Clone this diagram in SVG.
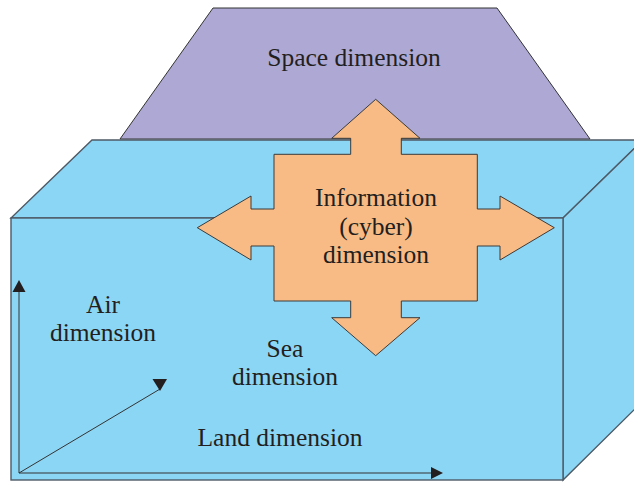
<svg xmlns="http://www.w3.org/2000/svg" width="634" height="482" viewBox="0 0 634 482">
<style>
.t{font-family:"Liberation Serif","Times New Roman",serif;font-size:25.5px;fill:#231f20;text-anchor:middle}
.box{fill:#8cd6f5;stroke:#4d5a66;stroke-width:1.4;stroke-linejoin:miter}
.ax{stroke:#333;stroke-width:1;fill:none}
.hd{fill:#231f20;stroke:none}
</style>
<rect width="634" height="482" fill="#fff"/>
<g id="space">
<polygon points="213,8 497,8 590,139 120,139" fill="#ada9d4" stroke="#333" stroke-width="1"/>
<text class="t" x="354" y="66">Space dimension</text>
</g>
<g id="cube">
<polygon class="box" points="92,140 643,140 563,218 11,218"/>
<polygon class="box" points="563,218 643,140 643,401 563,480"/>
<rect class="box" x="11" y="218" width="552" height="262"/>
</g>
<g id="info">
<polygon points="375.7,99.3 420,138.3 401.3,138.3 401.3,154.3 477.3,154.3 477.3,209 500,209 500,196 554.3,227.7 500,260 500,246 477.3,246 477.3,301 401.3,301 401.3,317.7 420,317.7 375.7,355.7 331.7,317.7 350.7,317.7 350.7,301 274,301 274,246 251,246 251,260 197.3,227.7 251,196 251,209 274,209 274,154.3 350.7,154.3 350.7,138.3 331.7,138.3" fill="#f8bb85" stroke="#3a3a3a" stroke-width="1"/>
<text class="t" x="376" y="206">Information</text>
<text class="t" x="376" y="235">(cyber)</text>
<text class="t" x="376" y="263">dimension</text>
</g>
<g id="air">
<text class="t" x="103" y="313">Air</text>
<text class="t" x="103" y="341">dimension</text>
</g>
<g id="sea">
<text class="t" x="285" y="357">Sea</text>
<text class="t" x="285" y="385">dimension</text>
</g>
<g id="land">
<text class="t" x="280" y="446">Land dimension</text>
</g>
<g id="connectors">
<path class="ax" d="M19,473 V291"/>
<polygon class="hd" points="19,280 25.5,292 12.5,292"/>
<path class="ax" d="M19,473 H432"/>
<polygon class="hd" points="443,473 431,467 431,479"/>
<path class="ax" d="M19,473 L160,389"/>
<polygon class="hd" points="152.5,379 167,379 160,391"/>
</g>
</svg>
